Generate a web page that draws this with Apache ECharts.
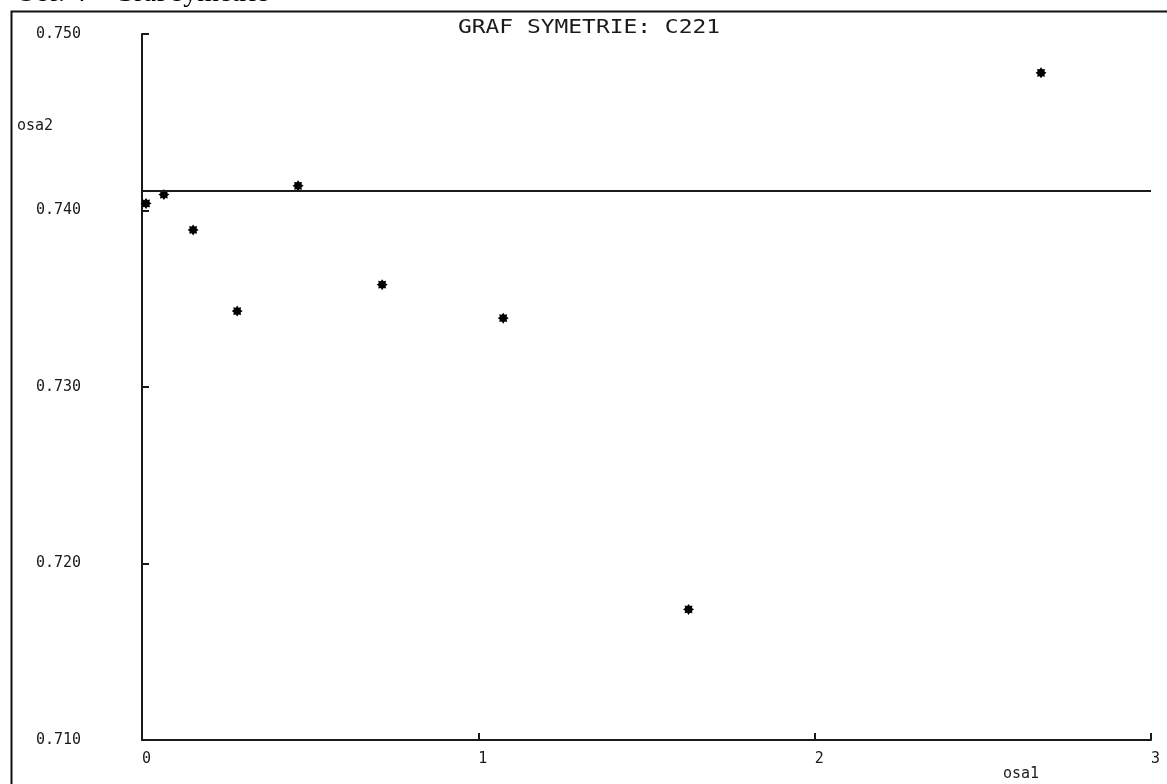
<!DOCTYPE html>
<html>
<head>
<meta charset="utf-8">
<title>Graf symetrie</title>
<script src="https://cdn.jsdelivr.net/npm/echarts@6/dist/echarts.min.js"></script>
<style>
  html, body { margin: 0; padding: 0; background: #fff; }
  #chart { width: 1167px; height: 784px; }
</style>
</head>
<body>
<div id="chart"></div>
<script>
// Symmetry plot values: osa1 (x) and osa2 (y)
const osa1 = [0.012, 0.065, 0.152, 0.283, 0.464, 0.714, 1.074, 1.625, 2.673];
const osa2 = [0.7404, 0.7409, 0.7389, 0.7343, 0.7414, 0.7358, 0.7339, 0.7174, 0.7478];
// Reference level drawn across the plot
const referenceLevel = 0.7411;
// Axis ticks
const xTicks = [0, 1, 2, 3];
const yTicks = [0.710, 0.720, 0.730, 0.740, 0.750];

const titleText = 'GRAF SYMETRIE: C221';
const captionText = 'Obr. 4 \u2013 Graf symetrie';

// asterisk-like marker: filled 8-point star
function starPath(n, rOut, rIn) {
  let d = '';
  for (let i = 0; i < n * 2; i++) {
    const r = i % 2 === 0 ? rOut : rIn;
    const a = Math.PI * i / n;
    const x = (50 + r * Math.sin(a)).toFixed(2);
    const y = (50 - r * Math.cos(a)).toFixed(2);
    d += (i === 0 ? 'M' : 'L') + x + ' ' + y + ' ';
  }
  return 'path://' + d + 'Z';
}
const marker = starPath(8, 50, 34);

// stretch the title to the wide pixel-font look
const ctx = document.createElement('canvas').getContext('2d');
const titleFont = '19px "DejaVu Sans Mono"';
ctx.font = titleFont;
const titleScale = 262 / ctx.measureText(titleText).width;

const labelFont = 'DejaVu Sans Mono';
const ink = '#1a1a1a';

const chart = echarts.init(document.getElementById('chart'), null, { renderer: 'canvas' });
chart.setOption({
  backgroundColor: '#fff',
  animation: false,
  grid: { left: 142, top: 34, right: 16, bottom: 44, containLabel: false },
  xAxis: {
    type: 'value',
    min: xTicks[0],
    max: xTicks[xTicks.length - 1],
    interval: 1,
    axisLine: { show: true, onZero: false, lineStyle: { color: ink, width: 2 } },
    axisTick: { show: true, inside: true, length: 7, lineStyle: { color: ink, width: 2 } },
    splitLine: { show: false },
    axisLabel: {
      align: 'left', margin: 12,
      fontFamily: labelFont, fontSize: 15, color: ink,
      formatter: v => String(Math.round(v))
    }
  },
  yAxis: {
    type: 'value',
    min: yTicks[0],
    max: yTicks[yTicks.length - 1],
    interval: 0.01,
    axisLine: { show: true, onZero: false, lineStyle: { color: ink, width: 2 } },
    axisTick: { show: true, inside: true, length: 7, lineStyle: { color: ink, width: 2 } },
    splitLine: { show: false },
    axisLabel: {
      align: 'left', margin: 106,
      fontFamily: labelFont, fontSize: 15, color: ink,
      formatter: v => v.toFixed(3)
    }
  },
  series: [{
    type: 'scatter',
    data: osa1.map((x, i) => [x, osa2[i]]),
    symbol: marker,
    symbolSize: 11,
    itemStyle: { color: '#000', opacity: 1 },
    markLine: {
      silent: true,
      precision: 4,
      symbol: ['none', 'none'],
      label: { show: false },
      lineStyle: { color: ink, width: 2, type: 'solid' },
      data: [{ yAxis: referenceLevel }]
    }
  }],
  graphic: [
    {
      type: 'rect', left: 9, top: 9, z: 0,
      shape: { width: 1200, height: 800 },
      style: { fill: 'none', stroke: '#111', lineWidth: 2 }
    },
    {
      type: 'text', x: 16, y: -6,
      style: {
        text: captionText, font: '28px "Liberation Serif"', fill: '#000',
        verticalAlign: 'middle', align: 'left'
      }
    },
    {
      type: 'text', x: 458, y: 28, scaleX: titleScale,
      style: {
        text: titleText, font: titleFont, fill: ink,
        verticalAlign: 'middle', align: 'left'
      }
    },
    {
      type: 'text', x: 17, y: 126,
      style: {
        text: 'osa2', font: '15px "DejaVu Sans Mono"', fill: ink,
        verticalAlign: 'middle', align: 'left'
      }
    },
    {
      type: 'text', x: 1003, y: 774,
      style: {
        text: 'osa1', font: '15px "DejaVu Sans Mono"', fill: ink,
        verticalAlign: 'middle', align: 'left'
      }
    }
  ]
});
</script>
</body>
</html>
